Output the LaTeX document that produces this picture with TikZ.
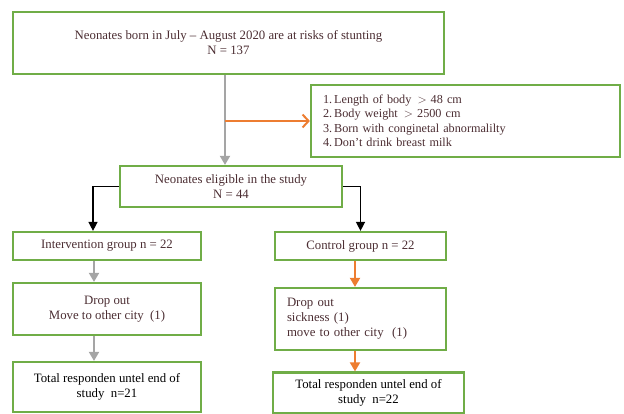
\documentclass[tikz,border=0pt]{standalone}
\usepackage{fontspec}
\setmainfont{Liberation Serif}
\usepackage{xcolor}
\usetikzlibrary{arrows.meta}
\definecolor{boxgreen}{HTML}{70AD47}
\definecolor{arrorange}{HTML}{ED7D31}
\definecolor{arrgrey}{HTML}{A5A5A5}
\definecolor{txtbrown}{HTML}{4B2D32}

\begin{document}
\begin{tikzpicture}[x=1pt,y=-1pt,
        box/.style={draw=boxgreen,line width=2.2pt,text=txtbrown,align=center,
            inner sep=0pt,font=\fontsize{12.8}{15}\selectfont},
        greyarr/.style={draw=arrgrey,line width=2pt,-{Triangle[length=9pt,width=10pt]}},
        blackarr/.style={draw=black,line width=1.4pt,-{Triangle[length=9pt,width=9pt]}},
        orangearr/.style={draw=arrorange,line width=2pt,-{Triangle[length=9pt,width=10pt]}},
        orangebarb/.style={draw=arrorange,line width=2pt,-{Straight Barb[length=6pt,width=13pt]}}]
        \useasboundingbox (0,0) rectangle (624,414);

        % Population
        \node[box,minimum width=431pt,minimum height=62pt] (pop) at (228.5,43)
            {Neonates born in July -- August 2020 are at risks of stunting\\N = 137};

        % Exclusion criteria
        \node[box,minimum height=72pt,text width=285pt,inner xsep=12pt,align=left,
            font=\fontsize{12.2}{14.5}\selectfont] (crit) at (465.5,121)
            {1.\,Length of body \,$>$ 48 cm\\2.\,Body weight \,$>$ 2500 cm\\3.\,Born with conginetal abnormalilty\\4.\,Don't drink breast milk};

        % Eligible
        \node[box,minimum width=222pt,minimum height=41pt] (elig) at (231,186.5)
            {Neonates eligible in the study\\N = 44};

        % Groups
        \node[box,minimum width=188pt,minimum height=28pt] (inter) at (107,246) {Intervention group n = 22};
        \node[box,minimum width=171pt,minimum height=28pt] (ctrl) at (360.5,246) {Control group n = 22};

        % Drop out
        \node[box,minimum width=188pt,minimum height=52pt] (dropA) at (107,309)
            {Drop out\\Move to other city \ (1)};
        \node[box,minimum height=62pt,text width=147pt,inner xsep=12pt,align=left] (dropB) at (360.5,319)
            {Drop out\\sickness (1)\\move to other city \ (1)};

        % Totals
        \node[box,text=black,minimum width=188pt,minimum height=50pt] (totA) at (107,387)
            {Total responden untel end of\\study \ n=21};
        \node[box,text=black,minimum width=191pt,minimum height=41pt] (totB) at (368.5,393)
            {Total responden untel end of\\study \ n=22};

        % Arrows
        \coordinate (branch) at (225,121);
        \draw[greyarr] (branch |- pop.south) -- (branch |- elig.north);
        \draw[orangebarb] (branch) -- (crit.west);
        \draw[blackarr] (elig.west) -| ([xshift=-14pt]inter.north);
        \draw[blackarr] (elig.east) -| (ctrl.north);
        \draw[greyarr] ([xshift=-13pt]inter.south) -- ([xshift=-13pt]dropA.north);
        \draw[greyarr] ([xshift=-13pt]dropA.south) -- ([xshift=-13pt]totA.north);
        \draw[orangearr] ([xshift=-5.5pt]ctrl.south) -- ([xshift=-5.5pt]dropB.north);
        \draw[orangearr] ([xshift=-5.5pt]dropB.south) -- ([xshift=-13.5pt]totB.north);
    \end{tikzpicture}
\end{document}
